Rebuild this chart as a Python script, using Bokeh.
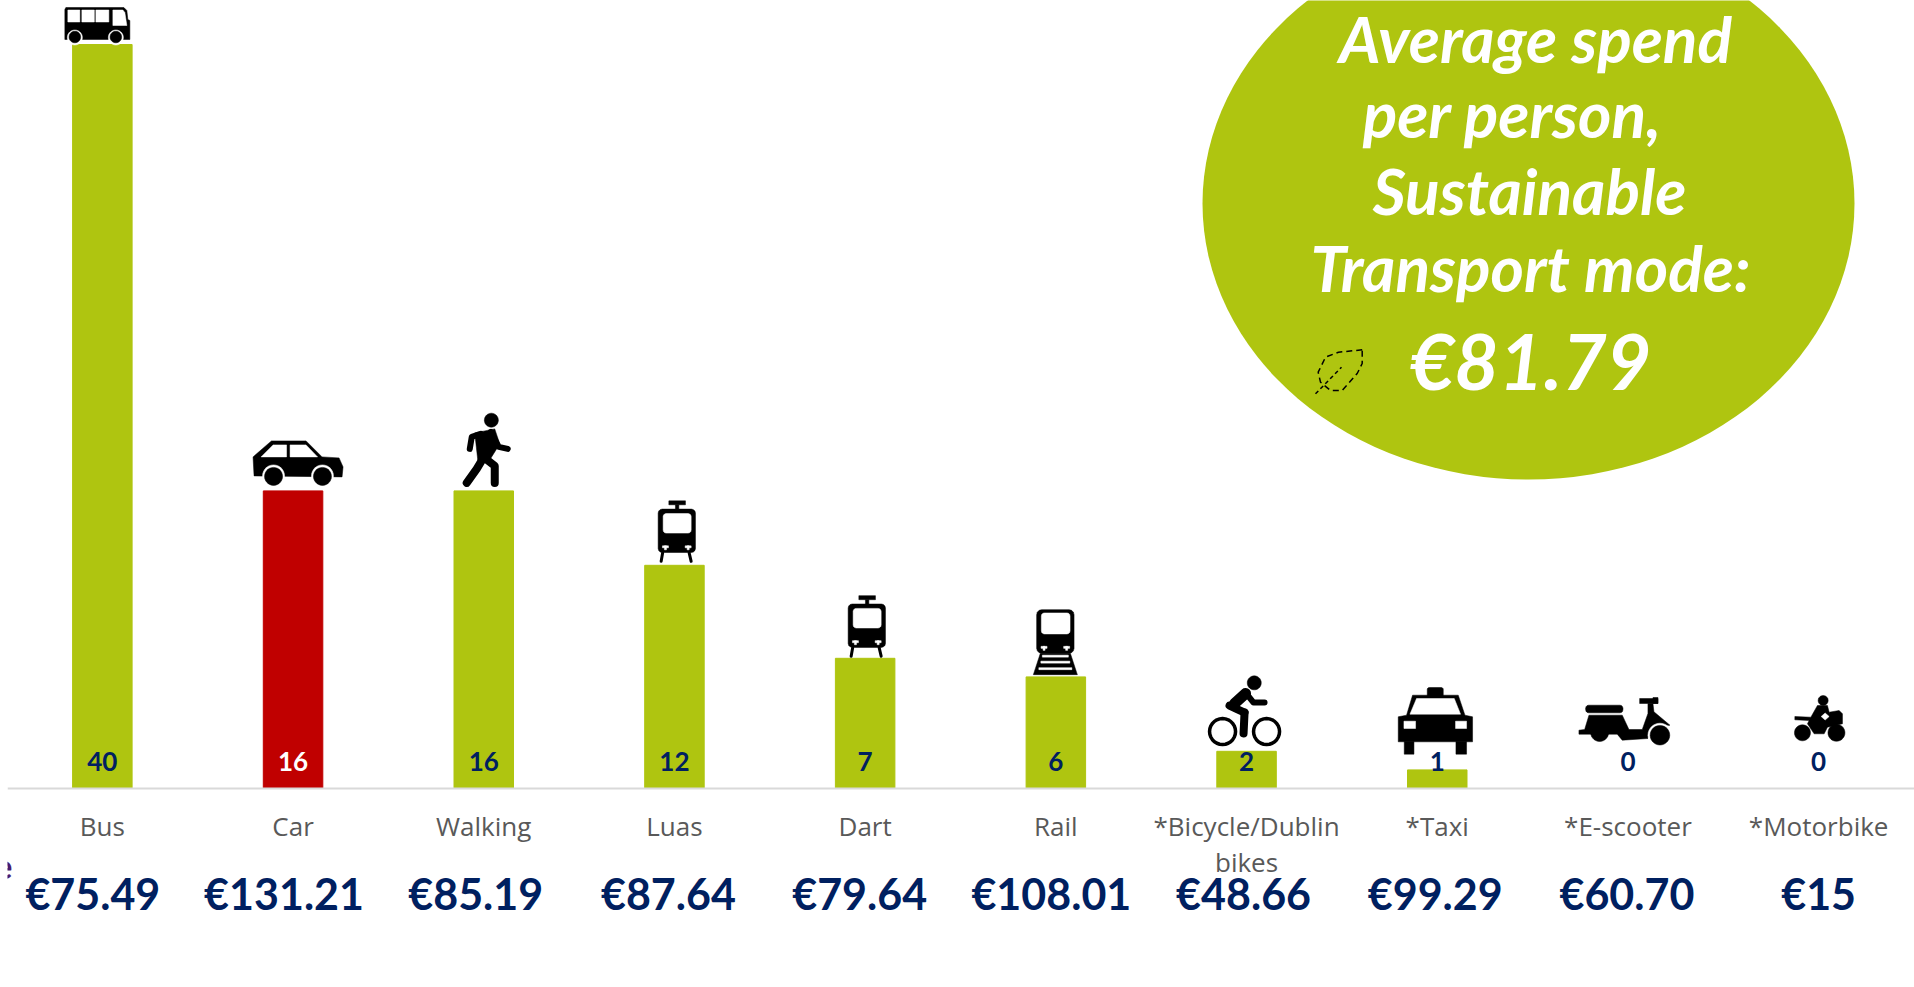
from bokeh.embed import file_html
from bokeh.resources import INLINE
from bokeh.plotting import figure
from bokeh.models import Range1d, ColumnDataSource, LinearAxis, FixedTicker, Label
from bokeh.core.properties import value
import math

categories = ["Bus", "Car", "Walking", "Luas", "Dart", "Rail", "*Bicycle/Dublin\nbikes", "*Taxi", "*E-scooter", "*Motorbike"]
shares = [40, 16, 16, 12, 7, 6, 2, 1, 0, 0]
spends = ["€75.49", "€131.21", "€85.19", "€87.64", "€79.64", "€108.01", "€48.66", "€99.29", "€60.70", "€15"]
bar_colors = ["#AFC510", "#C00000"] + ["#AFC510"] * 8
share_colors = ["#002060", "#FFFFFF"] + ["#002060"] * 8
spend_dx = [-9.5, -9, -8, -6, -5.5, -4.5, -3, -2, -1, 0]

BASE = 788.0
PER = 18.6
LEFT = 6.5
STEP = 190.7
K = "#000000"
W = "#FFFFFF"


def fx(px):
    return (px - LEFT) / STEP


def fy(py):
    return (BASE - py) / PER


positions = [i + 0.5 for i in range(len(categories))]
first_lines = [c.split("\n")[0] for c in categories]

p = figure(width=1914, height=987, output_backend="svg", toolbar_location=None,
           x_range=Range1d(fx(7), fx(1914)), y_range=Range1d(fy(987), fy(0)),
           min_border_left=7, min_border_right=0, min_border_top=0, min_border_bottom=0,
           outline_line_color=None, x_axis_location=None, y_axis_location=None)
p.grid.visible = False

src = ColumnDataSource(dict(x=positions, top=shares, c=bar_colors, tc=share_colors,
                            label=[str(v) for v in shares], spend=spends, dx=spend_dx))
p.ellipse(x=[fx(1528)], y=[fy(203)], width=652 / STEP, height=552 / PER, fill_color="#AFC510", line_color=None)
p.vbar(x="x", top="top", bottom=0, width=59.5 / STEP, color="c", source=src)

ax = LinearAxis(fixed_location=0, ticker=FixedTicker(ticks=positions),
                major_label_overrides=dict(zip(positions, first_lines)))
ax.axis_line_color = "#D9D9D9"
ax.axis_line_width = 2
ax.major_tick_line_color = None
ax.minor_tick_line_color = None
ax.major_label_text_font = "Open Sans"
ax.major_label_text_font_size = "26px"
ax.major_label_text_color = "#595959"
ax.major_label_standoff = 13
ax.major_label_orientation = "horizontal"
p.add_layout(ax, "below")

for x, c in zip(positions, categories):
    for extra in c.split("\n")[1:]:
        p.text(x=[x], y=[0], text=[extra], text_color="#595959", text_font=value("Open Sans"), text_font_size="26px",
               text_align="center", text_baseline="alphabetic", y_offset=73.5)

p.text(x="x", y=0, text="label", text_color="tc", source=src, text_font=value("Lato"), text_font_style="bold",
       text_font_size="26px", text_align="center", text_baseline="alphabetic", y_offset=-27.5)
p.text(x="x", y=0, x_offset="dx", text="spend", source=src, text_color="#002060", text_font=value("Lato"),
       text_font_style="bold", text_font_size="43px", text_align="center", text_baseline="alphabetic", y_offset=105.3)

bubble = [("Average spend", 1535, 38), ("per person,", 1512, 113), ("Sustainable", 1529, 190), ("Transport mode:", 1530, 267)]
p.text(x=[fx(b[1]) for b in bubble], y=[fy(b[2]) for b in bubble], text=[b[0] for b in bubble],
       text_color=W, text_font=value("Lato"), text_font_style="bold italic", text_font_size="64px",
       text_align="center", text_baseline="alphabetic")
p.text(x=[fx(1530)], y=[fy(359)], text=["€81.79"], text_color=W, text_font=value("Lato"), text_font_style="bold italic",
       text_font_size="77px", text_align="center", text_baseline="alphabetic")

# leaf outline
p.line([fx(v) for v in [1361.7, 1338, 1325, 1317.7, 1320, 1330, 1341.7, 1356.7, 1361.7, 1361.7]],
       [fy(v) for v in [349.3, 351.7, 356.7, 371.7, 381.7, 390, 390, 373, 363, 349.3]],
       line_color=K, line_width=1.5, line_dash="6 4")
p.line([fx(1315), fx(1341)], [fy(393.3), fy(366.7)], line_color=K, line_width=1.5, line_dash="4 3")

# clipped fragment of a neighbouring text at the left edge
p.add_layout(Label(x=5, y=987 - 866, x_units="screen", y_units="screen", text="e", text_align="right",
                   text_baseline="alphabetic", text_font="Lato", text_font_style="bold", text_font_size="34px",
                   text_color="#4B1A6B"))


def rect(x0, y0, x1, y1):
    return [(x0, y0), (x1, y0), (x1, y1), (x0, y1)]


def circ(cx, cy, r):
    return [(cx + r * math.cos(i * math.pi / 14), cy + r * math.sin(i * math.pi / 14)) for i in range(28)]


def rrect(x0, y0, x1, y1, r):
    pts = []
    for cx, cy, a in [(x1 - r, y0 + r, -90), (x1 - r, y1 - r, 0), (x0 + r, y1 - r, 90), (x0 + r, y0 + r, 180)]:
        for s in range(4):
            t = math.radians(a + s * 30)
            pts.append((cx + r * math.cos(t), cy + r * math.sin(t)))
    return pts


def P(c, pts):
    return ("p", c, pts, 0)


def L(c, w, pts):
    return ("l", c, pts, w)


def cross(x, y):
    return [P(W, rect(x - 3, y - 1, x + 3, y + 1)), P(W, rect(x - 1, y - 1, x + 1, y + 3))]


bus = [
    P(K, [(1, 0), (59, 0), (62, 3), (63, 12), (65, 13), (65, 32), (0, 32), (0, 2)]),
    P(W, rect(3, 2.5, 15, 14.5)), P(W, rect(17, 2.5, 29.5, 14.5)), P(W, rect(31, 2.5, 44, 14.5)),
    P(W, [(48, 2.5), (58, 2.5), (60, 5), (62, 18), (48, 18)]),
    P(W, circ(10, 30, 7.5)), P(W, circ(51, 30, 7.5)), P(K, circ(10, 29.5, 5.8)), P(K, circ(51, 29.5, 5.8)),
]
car = [
    P(K, [(18.4, 1), (53, 1), (69, 17), (86, 18), (90, 27), (89, 37), (1, 36), (0, 17)]),
    P(W, [(8, 17), (20, 5), (33.5, 5), (33.5, 17)]), P(W, [(37, 5), (53, 5), (64.5, 17), (37, 17)]),
    P(W, circ(20.5, 36, 11)), P(W, circ(69.4, 36, 11)), P(K, circ(20.5, 36.5, 9)), P(K, circ(69.4, 36.5, 9)),
]
walker = [
    P(K, circ(28.6, 6.3, 7)),
    P(K, [(12, 19), (32, 15), (37, 30), (27, 46), (15, 46)]),
    L(K, 6, [(18, 20), (9, 23), (7, 35)]), L(K, 6, [(28, 18), (36, 33), (45, 35)]),
    L(K, 8, [(20, 45), (14, 55), (4, 69)]), L(K, 8, [(23, 45), (32, 52), (32, 69)]),
]


def tram():
    return [
        P(K, rect(10.7, 0, 27.3, 4)), P(K, rect(17.3, 4, 20.7, 9)),
        P(K, rrect(0, 8.3, 37.3, 51.7, 4)), P(W, rrect(5, 12.7, 33, 32.3, 3)),
        *cross(7.3, 46), *cross(30, 46),
        L(K, 3, [(4.5, 52), (3, 60.5)]), L(K, 3, [(31, 52), (33, 60.5)]),
    ]


rail = [
    P(K, rrect(3.3, 0, 40.7, 43.7, 5)), P(W, rrect(8, 3.3, 36.7, 24.3, 3)),
    *cross(10.7, 37.7), *cross(33.3, 37.7),
    P(K, [(7, 43.7), (37, 43.7), (44, 65), (0, 65)]),
    P(W, rect(9, 45.5, 35, 47.5)), P(W, rect(7.5, 51.5, 36.5, 53.5)), P(W, rect(5.5, 58, 38.5, 60)),
]
bike = [
    ("r", K, circ(15, 55, 13), 3.5), ("r", K, circ(59, 55, 13), 3.5),
    P(K, circ(46.7, 6.3, 7)),
    L(K, 11, [(27, 27), (38, 17)]), L(K, 6, [(38, 16), (46, 26), (57, 26)]),
    L(K, 8, [(22, 29), (37, 36)]), L(K, 8, [(37, 36), (36, 57)]),
]
taxi = [
    P(K, rrect(29, 0, 45, 10, 2)),
    P(K, [(14.3, 7.7), (60, 7.7), (66.7, 27.7), (74.3, 29.3), (74.3, 54.3), (0, 54.3), (0, 29.3), (8.3, 27.7)]),
    P(W, [(18.3, 11), (56, 11), (62.3, 26.7), (11.7, 26.7)]),
    P(W, rect(5.7, 33.7, 17.3, 41)), P(W, rect(57.3, 33.7, 68.3, 41)),
    P(K, rect(6, 54, 15.7, 66.7)), P(K, rect(57.7, 54, 68.3, 66.7)),
]
scooter = [
    P(K, circ(20.7, 35, 9)),
    P(K, rrect(6.7, 7.7, 44, 15.3, 3)),
    P(K, [(10, 17.7), (43.3, 17.7), (50, 32), (63.3, 32), (69, 16), (69, 6), (74, 6), (75, 14.3), (91, 27.7),
          (73, 29.3), (69, 41), (43.3, 42.7), (38.3, 36.7), (0, 36.7), (0, 32.7), (5.7, 32)]),
    P(K, rect(60.7, 1, 79, 6)), P(K, rect(74, 0, 79, 6)),
    P(W, circ(81, 37.7, 12)), P(K, circ(81, 37.7, 9.8)),
]
moto = [
    P(K, circ(8.3, 37.3, 8)), P(K, circ(42.3, 37.3, 8.5)), P(K, circ(29, 5, 5)),
    P(K, [(23.3, 10), (33.3, 10), (35, 16.7), (45, 15), (48.3, 18.3), (48.3, 28.3), (33.3, 31.7), (30, 38.3),
          (20, 38.3), (13.3, 28.3), (15, 25), (0.7, 24.3), (0.7, 21), (16.7, 21.7)]),
    P(W, [(31, 17.5), (35, 21), (31, 24.5), (27, 21)]),
]

icons = [bus, car, walker, tram(), tram(), rail, bike, taxi, scooter, moto]
icon_dx = [-37.5, -40, -21, -16.3, -17, -22.5, -39, -39, -49, -24.5]
icon_dy = [-37, -51, -77, -64.5, -62.6, -67.25, -74.75, -82.4, -91, -93]

for i, icon in enumerate(icons):
    ox = LEFT + (i + 0.5) * STEP + icon_dx[i]
    oy = BASE - shares[i] * PER + icon_dy[i]
    for kind, c, pts, w in icon:
        xs = [fx(ox + q[0]) for q in pts]
        ys = [fy(oy + q[1]) for q in pts]
        if kind == "p":
            p.patch(xs, ys, fill_color=c, line_color=c, line_width=0.5)
        elif kind == "l":
            p.line(xs, ys, line_color=c, line_width=w, line_cap="round", line_join="round")
        else:
            p.patch(xs, ys, fill_color=None, line_color=c, line_width=w)

open("out.html", "w").write(file_html(p, INLINE))
